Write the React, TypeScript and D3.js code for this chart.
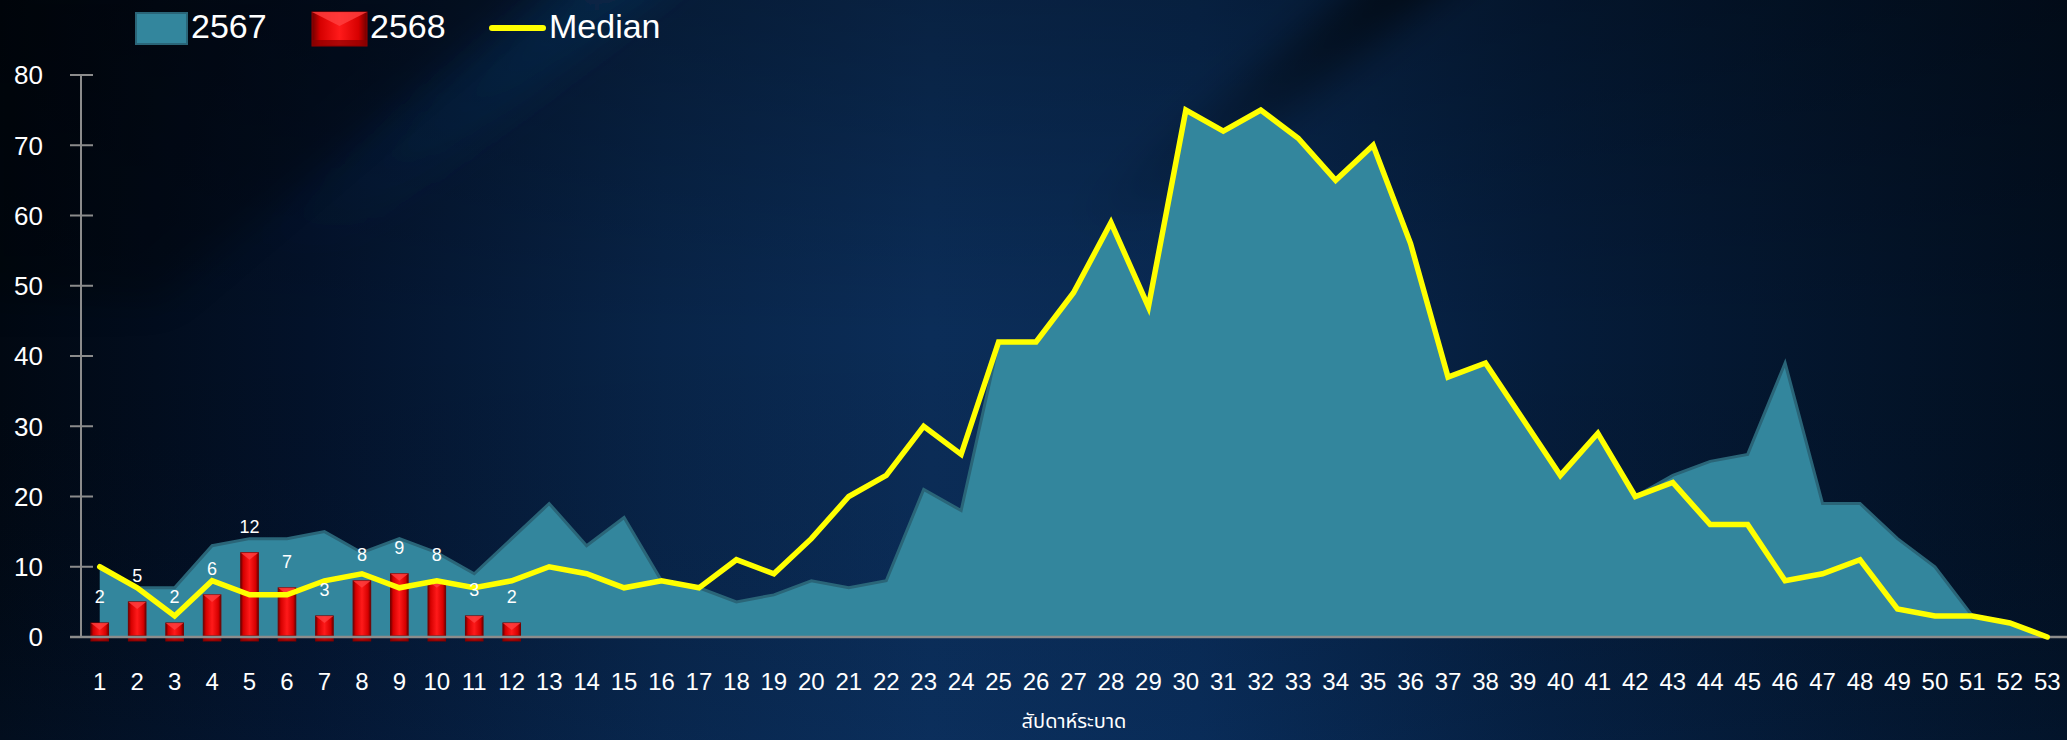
import React from 'react';
import * as d3 from 'd3';

const weeks = [
  '1', '2', '3', '4', '5', '6', '7', '8', '9', '10', '11', '12', '13', '14', '15', '16', '17', '18',
  '19', '20', '21', '22', '23', '24', '25', '26', '27', '28', '29', '30', '31', '32', '33', '34', '35',
  '36', '37', '38', '39', '40', '41', '42', '43', '44', '45', '46', '47', '48', '49', '50', '51', '52', '53',
];

// 2567 (area)
const cases2567 = [
  10, 7, 7, 13, 14, 14, 15, 12, 14, 12, 9, 14, 19, 13, 17, 8, 7, 5, 6, 8, 7, 8, 21, 18, 42, 42, 49,
  59, 47, 75, 72, 75, 71, 65, 70, 56, 37, 39, 31, 23, 29, 20, 23, 25, 26, 39, 19, 19, 14, 10, 3, 2, 0,
];

// 2568 (bars, weeks 1-12)
const cases2568 = [2, 5, 2, 6, 12, 7, 3, 8, 9, 8, 3, 2];

// median of previous years
const median = [
  10, 7, 3, 8, 6, 6, 8, 9, 7, 8, 7, 8, 10, 9, 7, 8, 7, 11, 9, 14, 20, 23, 30, 26, 42, 42, 49, 59,
  47, 75, 72, 75, 71, 65, 70, 56, 37, 39, 31, 23, 29, 20, 22, 16, 16, 8, 9, 11, 4, 3, 3, 2, 0,
];

const yTicks = [0, 10, 20, 30, 40, 50, 60, 70, 80];

const W = 2067;
const H = 740;
const FONT = 'Liberation Sans, Arial, sans-serif';

export default function App() {
  const x = d3.scaleBand<string>().domain(weeks).range([81, 2066]).padding(0);
  const y = d3.scaleLinear().domain([0, 80]).range([637, 75]);
  const cx = (i: number) => (x(weeks[i]) as number) + x.bandwidth() / 2;

  const area = d3
    .area<number>()
    .x((_, i) => cx(i))
    .y0(y(0))
    .y1((d) => y(d));
  const areaTop = d3
    .line<number>()
    .x((_, i) => cx(i))
    .y((d) => y(d));
  const medLine = d3
    .line<number>()
    .x((_, i) => cx(i))
    .y((d) => y(d));

  const barW = x.bandwidth() * 0.47;

  return (
    <div>
      <style>{`body{margin:0;background:#020b18}`}</style>
      <svg width={W} height={H} style={{ display: 'block' }}>
        <defs>
          <linearGradient id="bgH" x1="0" x2="1" y1="0" y2="0">
            <stop offset="0" stopColor="#010812" />
            <stop offset="0.15" stopColor="#03122a" />
            <stop offset="0.32" stopColor="#082448" />
            <stop offset="0.45" stopColor="#0b2d58" />
            <stop offset="0.58" stopColor="#092a54" />
            <stop offset="0.75" stopColor="#051c3a" />
            <stop offset="1" stopColor="#020f20" />
          </linearGradient>
          <linearGradient id="bgV" x1="0" x2="0" y1="0" y2="1">
            <stop offset="0" stopColor="#000000" stopOpacity="0.25" />
            <stop offset="0.45" stopColor="#000000" stopOpacity="0" />
            <stop offset="1" stopColor="#0a3a78" stopOpacity="0.12" />
          </linearGradient>
          <linearGradient id="streakDark" x1="0" x2="0" y1="0" y2="1">
            <stop offset="0" stopColor="#000000" stopOpacity="0.6" />
            <stop offset="1" stopColor="#000000" stopOpacity="0" />
          </linearGradient>
          <linearGradient id="streakLight" x1="0" x2="0" y1="0" y2="1">
            <stop offset="0" stopColor="#1a4f8a" stopOpacity="0.25" />
            <stop offset="1" stopColor="#1a4f8a" stopOpacity="0" />
          </linearGradient>
          <filter id="blur" x="-50%" y="-50%" width="200%" height="200%">
            <feGaussianBlur stdDeviation="18" />
          </filter>
          <linearGradient id="barGrad" x1="0" x2="1" y1="0" y2="0">
            <stop offset="0" stopColor="#6e0000" />
            <stop offset="0.15" stopColor="#d60000" />
            <stop offset="0.5" stopColor="#ff1a1a" />
            <stop offset="0.85" stopColor="#d60000" />
            <stop offset="1" stopColor="#6e0000" />
          </linearGradient>
        </defs>

        <rect x={0} y={0} width={W} height={H} fill="url(#bgH)" />
        <rect x={0} y={0} width={W} height={H} fill="url(#bgV)" />
        {/* diagonal streaks of the backdrop */}
        <polygon points="1390,-40 1480,-40 1150,230 1060,230" fill="url(#streakDark)" filter="url(#blur)" />
        <polygon points="600,-40 700,-40 330,260 230,260" fill="url(#streakLight)" filter="url(#blur)" />
        <polygon points="-40,-40 560,-40 160,300 -40,300" fill="#000000" opacity={0.25} filter="url(#blur)" />

        {/* 2567 area */}
        <path d={area(cases2567) || ''} fill="#33869d" />
        <path d={areaTop(cases2567) || ''} fill="none" stroke="#2a6578" strokeWidth={3} />

        {/* axes */}
        <line x1={81} x2={81} y1={y(80)} y2={y(0)} stroke="#8c8c8c" strokeWidth={2} />
        {yTicks.map((t) => (
          <g key={t}>
            <line x1={70} x2={93} y1={y(t)} y2={y(t)} stroke="#8c8c8c" strokeWidth={2} />
            <text x={43} y={y(t)} dy="0.36em" textAnchor="end" fill="#fff" fontSize={26} fontFamily={FONT}>
              {t}
            </text>
          </g>
        ))}

        {/* 2568 bars */}
        {cases2568.map((v, i) => {
          const bx = cx(i) - barW / 2;
          const by = y(v);
          const bh = y(0) - by + 4;
          const tri = Math.min(barW / 2, bh / 2);
          return (
            <g key={i}>
              <rect x={bx} y={by} width={barW} height={bh} fill="url(#barGrad)" stroke="#7a0000" strokeWidth={1} />
              <polygon
                points={`${bx},${by} ${bx + barW},${by} ${bx + barW / 2},${by + tri * 0.8}`}
                fill="#ff4040"
                opacity={0.8}
              />
              <rect x={bx} y={y(0) - 2} width={barW} height={6} fill="#8a0000" opacity={0.7} />
            </g>
          );
        })}
        <line x1={70} x2={W} y1={y(0)} y2={y(0)} stroke="#8c8c8c" strokeWidth={2.5} />

        {/* median */}
        <path
          d={medLine(median) || ''}
          fill="none"
          stroke="#ffff00"
          strokeWidth={5.5}
          strokeLinejoin="miter"
          strokeLinecap="round"
        />

        {/* bar labels */}
        {cases2568.map((v, i) => (
          <text key={i} x={cx(i)} y={y(v) - 20} textAnchor="middle" fill="#fff" fontSize={18} fontFamily={FONT}>
            {v}
          </text>
        ))}

        {/* x tick labels */}
        {weeks.map((w, i) => (
          <text key={w} x={cx(i)} y={690} textAnchor="middle" fill="#fff" fontSize={24} fontFamily={FONT}>
            {w}
          </text>
        ))}
        <text x={1074} y={728} textAnchor="middle" fill="#fff" fontSize={20} fontFamily="Tahoma, 'Noto Sans Thai', 'DejaVu Sans', sans-serif">
          สัปดาห์ระบาด
        </text>

        {/* legend */}
        <rect x={136} y={13} width={51} height={31} fill="#33869d" stroke="#2a6578" strokeWidth={2} />
        <text x={191} y={38} fill="#fff" fontSize={34} fontFamily={FONT}>2567</text>
        <rect x={312} y={12} width={55} height={34} fill="url(#barGrad)" stroke="#9a0000" strokeWidth={1} />
        <polygon points="312,12 367,12 339.5,26" fill="#ff4040" opacity={0.8} />
        <rect x={312} y={40} width={55} height={6} fill="#8a0000" opacity={0.7} />
        <text x={370} y={38} fill="#fff" fontSize={34} fontFamily={FONT}>2568</text>
        <line x1={492} x2={543} y1={28} y2={28} stroke="#ffff00" strokeWidth={6} strokeLinecap="round" />
        <text x={549} y={38} fill="#fff" fontSize={34} fontFamily={FONT}>Median</text>
      </svg>
    </div>
  );
}
